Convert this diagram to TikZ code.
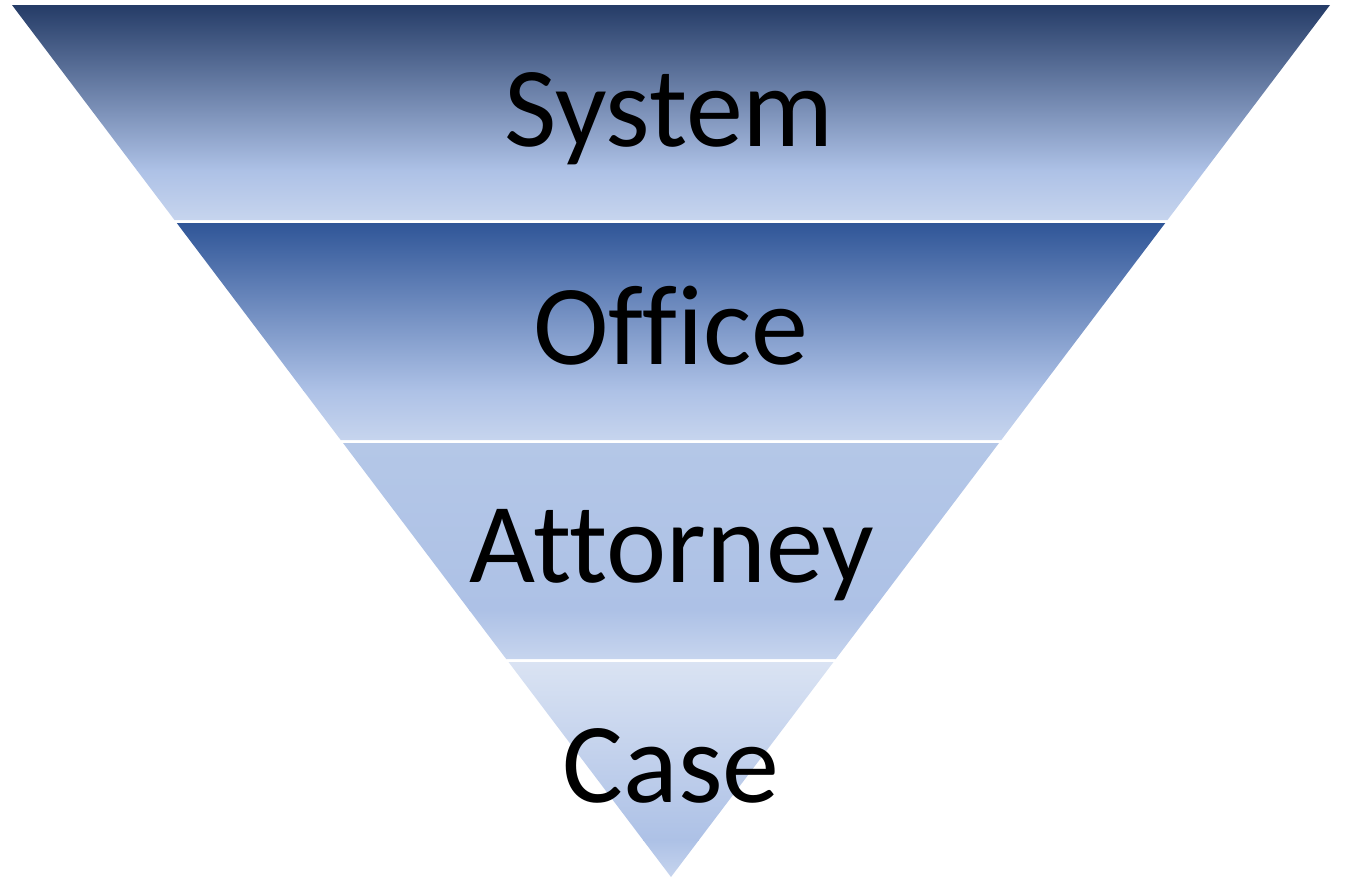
\documentclass[tikz,border=0pt]{standalone}
\usepackage{fontspec}
\setmainfont{Carlito}[Ligatures=NoCommon]
\definecolor{bOneTop}{HTML}{243B66}
\definecolor{bTwoTop}{HTML}{2F5597}
\definecolor{bMid}{HTML}{ADC1E6}
\definecolor{bLow}{HTML}{C7D5EE}
\definecolor{bThreeTop}{HTML}{B4C7E7}
\definecolor{bFourTop}{HTML}{DAE3F3}
\tikzset{
  lbl/.style={anchor=base, inner sep=0pt, font=\fontsize{114}{130}\selectfont, text=black},
}
\newcommand{\bandshade}[7]{% y0 ymid y1 topcolor midcolor lowcolor clip-path
  \begin{scope}
    \clip #7;
    \shade[top color=#4, bottom color=#5] (0,#1-1) rectangle (1345,#2+0.5);
    \shade[top color=#5, bottom color=#6] (0,#2) rectangle (1345,#3+1);
  \end{scope}
}
\begin{document}
\begin{tikzpicture}[x=1pt,y=-1pt]
  \useasboundingbox (0,0) rectangle (1345,879);
  % band 1
  \bandshade{5}{170}{220}{bOneTop}{bMid}{bLow}{(12,5) -- (1330,5) -- (1167.5,220) -- (174.5,220) -- cycle}
  % band 2
  \bandshade{223}{390}{440}{bTwoTop}{bMid}{bLow}{(176.75,223) -- (1165.25,223) -- (1001.3,440) -- (340.7,440) -- cycle}
  % band 3
  \bandshade{443}{610}{659}{bThreeTop}{bMid}{bLow}{(343,443) -- (999,443) -- (835.8,659) -- (506.2,659) -- cycle}
  % band 4
  \bandshade{662}{840}{877}{bFourTop}{bMid}{bLow}{(508.5,662) -- (833.5,662) -- (671,877) -- cycle}
  \node[lbl] (system) at (669,146) {System};
  \node[lbl] (office) at (671,364) {Office};
  \node[lbl] (attorney) at (672,582) {Attorney};
  \node[lbl] (case) at (671,802) {Case};
\end{tikzpicture}
\end{document}
